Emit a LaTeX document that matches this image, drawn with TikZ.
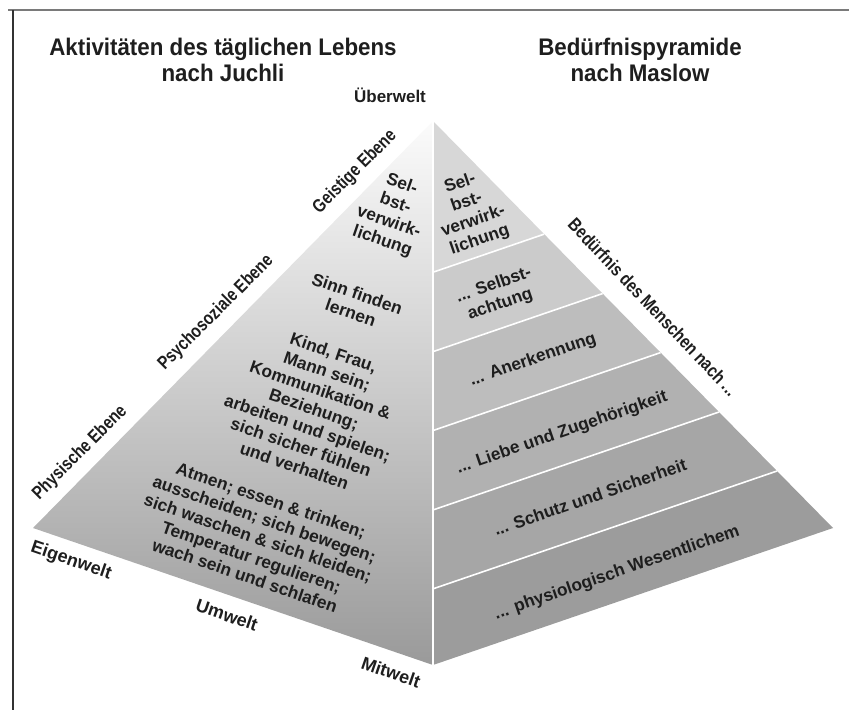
\documentclass[tikz,border=0pt]{standalone}
\usepackage{fontspec}
\setmainfont{Liberation Sans}
\usepackage{graphicx}
\usetikzlibrary{calc}

\definecolor{ink}{HTML}{1E1E1E}
\definecolor{framegray}{HTML}{7A7A7A}
\definecolor{framedark}{HTML}{333333}
\definecolor{faceTop}{HTML}{FBFBFB}
\definecolor{faceBot}{HTML}{9A9A9A}
\definecolor{bandA}{HTML}{D7D7D7}
\definecolor{bandB}{HTML}{CBCBCB}
\definecolor{bandC}{HTML}{BDBDBD}
\definecolor{bandD}{HTML}{B1B1B1}
\definecolor{bandE}{HTML}{A6A6A6}
\definecolor{bandF}{HTML}{9C9C9C}

% slightly condensed text
\newcommand{\narrowtext}[1]{\scalebox{0.82}[1]{#1}}
\newcommand{\titleline}[1]{\scalebox{0.93}[1]{#1}}

\begin{document}
\begin{tikzpicture}[x=1pt,y=-1pt,
  title/.style={font=\bfseries\fontsize{24}{26}\selectfont, text=ink, align=center, inner sep=0pt},
  inner/.style={font=\bfseries\fontsize{17.3}{20}\selectfont, text=ink, align=center, inner sep=0pt},
  need/.style={font=\bfseries\fontsize{17.3}{20}\selectfont, text=ink, align=center, inner sep=0pt, rotate=19},
  edgelabel/.style={font=\bfseries\fontsize{18.5}{20}\selectfont, text=ink, inner sep=0pt},
  toplabel/.style={font=\bfseries\fontsize{17}{19}\selectfont, text=ink, inner sep=0pt},
  worldlabel/.style={font=\bfseries\fontsize{18}{20}\selectfont, text=ink, inner sep=0pt, rotate=-19},
  sep/.style={white, line width=1.6pt}
]
\useasboundingbox (0,0) rectangle (849,710);

% frame
\coordinate (f1) at (8,10);
\coordinate (f2) at (849,10);
\coordinate (f3) at (13,10);
\coordinate (f4) at (13,710);
\draw[framegray, line width=1.5pt] (f1) -- (f2);
\draw[framedark, line width=1.5pt] (f3) -- (f4);

% pyramid corners
\coordinate (A) at (433,121);
\coordinate (L) at (33,528);
\coordinate (F) at (433,665);
\coordinate (R) at (833,528);

% left face
\shade[top color=faceTop, bottom color=faceBot] (A) -- (L) -- (F) -- cycle;

% right face: six bands
\foreach \t [count=\k] in {0.278,0.424,0.569,0.715,0.860,1.0}{
  \coordinate (P\k) at ($(A)!\t!(F)$);
  \coordinate (Q\k) at ($(A)!\t!(R)$);
}
\fill[bandA] (A) -- (P1) -- (Q1) -- cycle;
\fill[bandB] (P1) -- (P2) -- (Q2) -- (Q1) -- cycle;
\fill[bandC] (P2) -- (P3) -- (Q3) -- (Q2) -- cycle;
\fill[bandD] (P3) -- (P4) -- (Q4) -- (Q3) -- cycle;
\fill[bandE] (P4) -- (P5) -- (Q5) -- (Q4) -- cycle;
\fill[bandF] (P5) -- (P6) -- (Q6) -- (Q5) -- cycle;
\foreach \k in {1,...,5}{ \draw[sep] (P\k) -- (Q\k); }
\draw[sep, line width=2.5pt] (A) -- (F);

% titles
\node[title] (t1) at (223,60) {\titleline{Aktivitäten des täglichen Lebens}\\\titleline{nach Juchli}};
\node[title] (t2) at (640,60) {\titleline{Bedürfnispyramide}\\\titleline{nach Maslow}};
\node[toplabel] (top) at (390,95) {Überwelt};

% levels along the left edge
\node[edgelabel, rotate=45] (e1) at (355,172) {\narrowtext{Geistige Ebene}};
\node[edgelabel, rotate=45] (e2) at (216,313) {\narrowtext{Psychosoziale Ebene}};
\node[edgelabel, rotate=45] (e3) at (80,453) {\narrowtext{Physische Ebene}};

% worlds along the bottom edge
\node[worldlabel] (w1) at (71,561) {Eigenwelt};
\node[worldlabel] (w2) at (227,615) {Umwelt};
\node[worldlabel] (w3) at (391,672) {Mitwelt};

% right edge
\node[edgelabel, rotate=-46.5] (r1) at (653,307) {\narrowtext{Bedürfnis des Menschen nach ...}};

% activities (Juchli)
\node[inner, rotate=-19] (j1) at (392,213) {Sel-\\bst-\\verwirk-\\lichung};
\node[inner, rotate=-19] (j2) at (354,303) {Sinn finden\\lernen};
\node[inner, rotate=-19] (j3) at (314,409) {Kind, Frau,\\Mann sein;\\Kommunikation \&\\Beziehung;\\arbeiten und spielen;\\sich sicher fühlen\\und verhalten};
\node[inner, rotate=-19] (j4) at (258,538) {Atmen; essen \& trinken;\\ausscheiden; sich bewegen;\\sich waschen \& sich kleiden;\\Temperatur regulieren;\\wach sein und schlafen};

% needs (Maslow)
\node[need] (m1) at (470,212) {Sel-\\bst-\\verwirk-\\lichung};
\node[need] (m2) at (497,295) {... Selbst-\\achtung};
\node[need] (m3) at (533,360) {... Anerkennung};
\node[need] (m4) at (562,433) {... Liebe und Zugehörigkeit};
\node[need] (m5) at (590,497) {... Schutz und Sicherheit};
\node[need] (m6) at (617,573) {... physiologisch Wesentlichem};
\end{tikzpicture}
\end{document}
